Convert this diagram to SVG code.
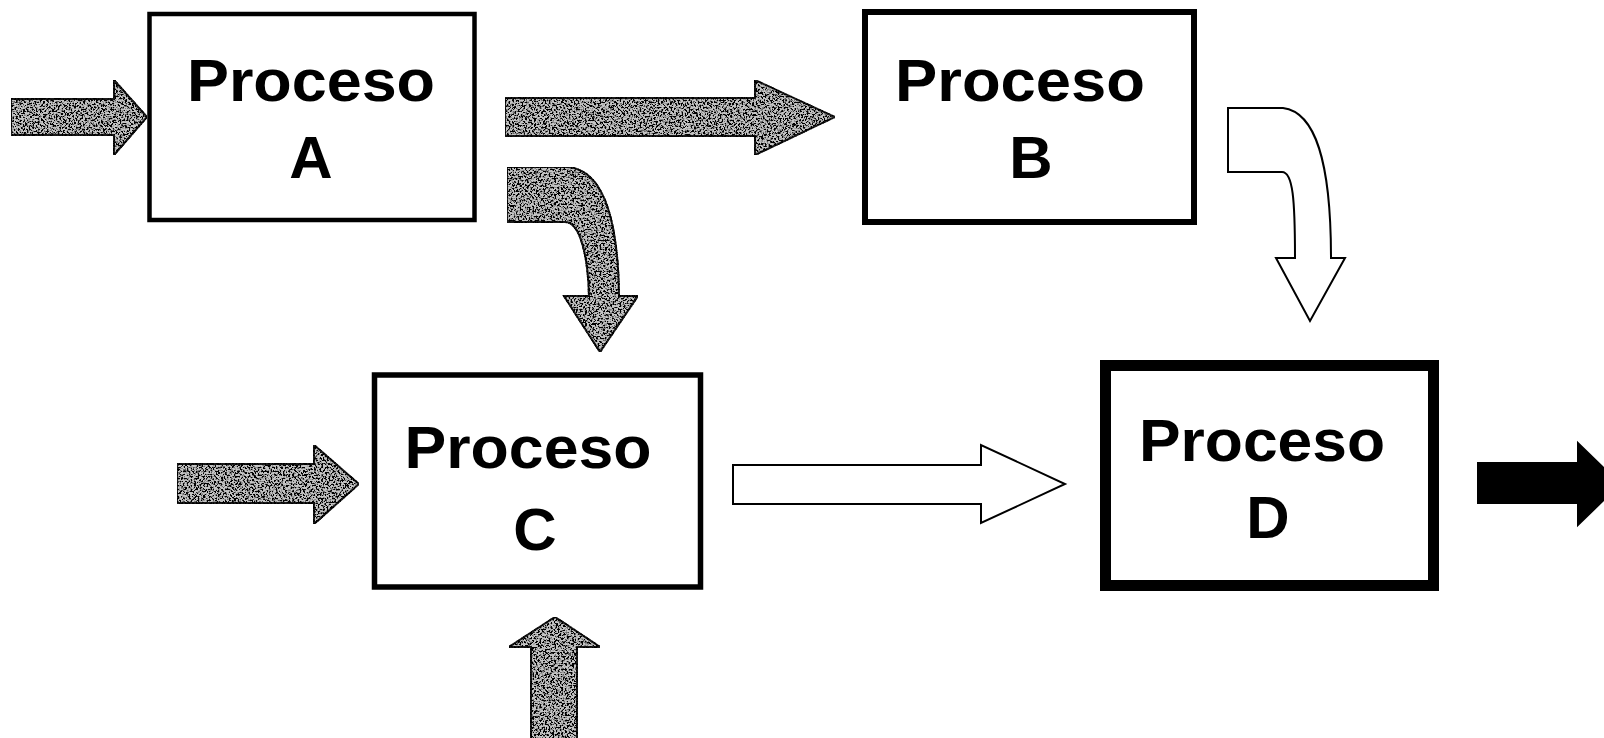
<svg xmlns="http://www.w3.org/2000/svg" width="1604" height="738" viewBox="0 0 1604 738">
  <style>
    .box { fill: #ffffff; stroke: #000000; }
    .lbl { font-family: "Liberation Sans", Arial, sans-serif; font-weight: bold; font-size: 60px; fill: #000000; text-anchor: middle; }
    .gray { fill: #c4c4c4; stroke: #1a1a1a; stroke-width: 2; stroke-linejoin: miter; filter: url(#grain); }
    .white { fill: #ffffff; stroke: #000000; stroke-width: 2; stroke-linejoin: miter; }
    .black { fill: #000000; stroke: #000000; stroke-width: 2; }
  </style>
  <defs>
    <filter id="grain" x="0" y="0" width="100%" height="100%" filterUnits="objectBoundingBox">
      <feTurbulence type="fractalNoise" baseFrequency="0.55" numOctaves="2" seed="7" result="n"/>
      <feColorMatrix in="n" type="matrix" values="0 0 0 0 0  0 0 0 0 0  0 0 0 0 0  7 0 0 0 -3.1" result="dots"/>
      <feComposite in="dots" in2="SourceAlpha" operator="in" result="d2"/>
      <feMerge>
        <feMergeNode in="SourceGraphic"/>
        <feMergeNode in="d2"/>
      </feMerge>
    </filter>
  </defs>
  <rect width="1604" height="738" fill="#ffffff"/>

  <g id="connectors">
    <polygon id="in-a" class="gray" points="11,99 114,99 114,80 147,117 114,155 114,135 11,135"/>
    <polygon id="a-b" class="gray" points="505,98 755,98 755,80 835,117 755,155 755,136 505,136"/>
    <path id="a-c" class="gray" d="M 507 167 L 568 167 C 600 170 618 210 619 296 L 638 296 L 600 352 L 564 296 L 589 296 C 588 255 580 222 565 222 L 507 222 Z"/>
    <path id="b-d" class="white" d="M 1228 108 L 1283 108 C 1315 112 1331 160 1331 258 L 1345 258 L 1310 321 L 1276 258 L 1295 258 C 1295 200 1293 172 1282 172 L 1228 172 Z"/>
    <polygon id="in-c" class="gray" points="177,464 314,464 314,445 359,484 314,524 314,503 177,503"/>
    <polygon id="c-d" class="white" points="733,465 981,465 981,445 1065,484 981,523 981,504 733,504"/>
    <polygon id="in-c-bottom" class="gray" points="531,745 531,647 509,647 555,617 600,647 577,647 577,745"/>
    <polygon id="out-d" class="black" points="1478,463 1578,463 1578,443 1620,484 1578,525 1578,503 1478,503"/>
  </g>

  <g id="node-a">
    <rect class="box" x="149.5" y="14" width="325" height="206" stroke-width="4.5"/>
    <text class="lbl" x="311" y="101" textLength="248" lengthAdjust="spacingAndGlyphs">Proceso</text>
    <text class="lbl" x="311" y="178">A</text>
  </g>
  <g id="node-b">
    <rect class="box" x="865" y="12" width="329" height="210" stroke-width="6"/>
    <text class="lbl" x="1020" y="101" textLength="250" lengthAdjust="spacingAndGlyphs">Proceso</text>
    <text class="lbl" x="1031" y="178">B</text>
  </g>
  <g id="node-c">
    <rect class="box" x="374.5" y="375" width="326" height="212" stroke-width="5.5"/>
    <text class="lbl" x="528" y="468" textLength="247" lengthAdjust="spacingAndGlyphs">Proceso</text>
    <text class="lbl" x="535" y="550">C</text>
  </g>
  <g id="node-d">
    <rect class="box" x="1105.5" y="365.5" width="328" height="220" stroke-width="11"/>
    <text class="lbl" x="1262" y="461" textLength="246" lengthAdjust="spacingAndGlyphs">Proceso</text>
    <text class="lbl" x="1268" y="538">D</text>
  </g>
</svg>
